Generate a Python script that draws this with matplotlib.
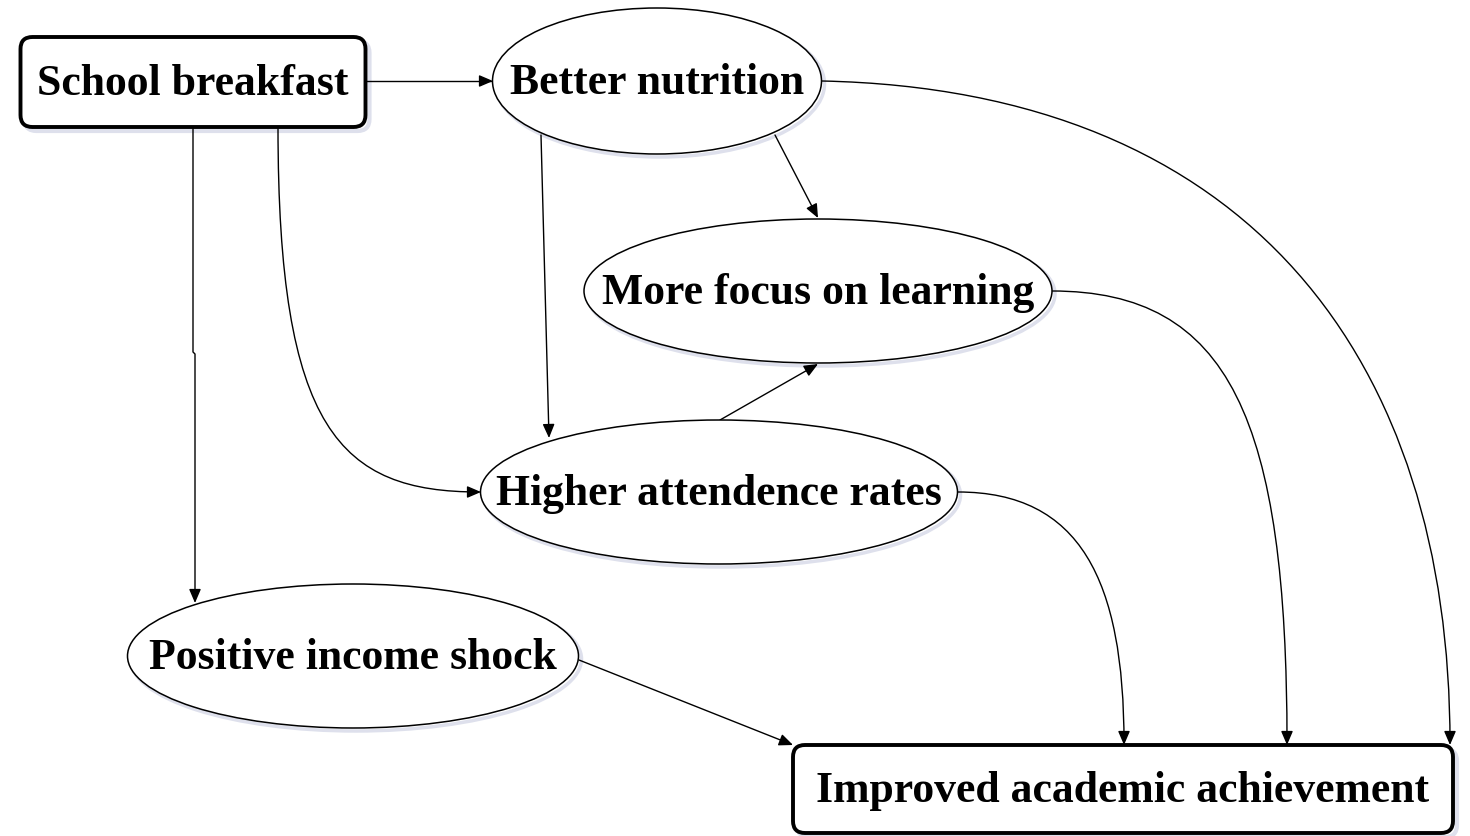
import numpy as np
import matplotlib.pyplot as plt
from matplotlib.patches import Ellipse, FancyBboxPatch, FancyArrowPatch
from matplotlib.path import Path

plt.rcParams['font.family'] = ['Liberation Serif', 'DejaVu Serif']

# nodes of the diagram
labels = ["School breakfast", "Better nutrition", "More focus on learning",
          "Higher attendence rates", "Positive income shock",
          "Improved academic achievement"]
shapes = ["box", "ellipse", "ellipse", "ellipse", "ellipse", "box"]
centers_x = [193, 657, 818, 719, 353, 1123]
centers_y = [82, 81, 291, 492, 656, 789]
widths = [345, 329, 468, 477, 451, 660]
heights = [90, 146, 144, 144, 144, 88]

# edges: (start, end, kind); kind "line" or "curve"
edge_from = [0, 0, 0, 1, 1, 3, 1, 2, 3, 4]
edge_to = [1, 4, 3, 3, 2, 2, 5, 5, 5, 5]

# attachment points for edges (pixel coords of the picture)
edge_paths = [
    [(365, 81), (493, 81)],
    [(193, 127), (193, 352), (195, 354), (195, 603)],
    [(278, 127), (278, 430), (340, 492), (481, 492)],
    [(541, 135), (549, 438)],
    [(775, 135), (818, 218)],
    [(720, 420), (818, 364)],
    [(822, 81), (1250, 90), (1450, 360), (1450, 745)],
    [(1052, 291), (1230, 291), (1287, 420), (1287, 745)],
    [(958, 492), (1080, 492), (1124, 580), (1124, 745)],
    [(579, 660), (793, 745)],
]
edge_kind = ["line", "line", "curve", "line", "line", "line",
             "curve", "curve", "curve", "line"]

fig = plt.figure(figsize=(14.7, 8.36), dpi=100)
ax = fig.add_axes([0, 0, 1, 1])
ax.set_xlim(0, 1470)
ax.set_ylim(836, 0)
ax.axis("off")

shadow = "#c8cce0"
for lab, sh, cx, cy, w, h in zip(labels, shapes, centers_x, centers_y, widths, heights):
    if sh == "box":
        for dx, col, lw, z in [(4, shadow, 3.0, 1), (0, "black", 2.8, 3)]:
            p = FancyBboxPatch((cx - w / 2 + dx, cy - h / 2 + dx), w, h,
                               boxstyle="round,pad=0,rounding_size=12",
                               fc="white" if dx == 0 else "none",
                               ec=col, lw=lw, zorder=z, alpha=1 if dx == 0 else 0.6)
            ax.add_patch(p)
    else:
        ax.add_patch(Ellipse((cx + 3, cy + 3), w, h, fc="none", ec=shadow,
                             lw=2.5, alpha=0.6, zorder=1))
        ax.add_patch(Ellipse((cx, cy), w, h, fc="white", ec="black",
                             lw=1.1, zorder=3))
    ax.text(cx, cy + 2, lab, ha="center", va="center", fontsize=31.5,
            fontweight="bold", zorder=4)

for pts, kind in zip(edge_paths, edge_kind):
    if kind == "curve":
        codes = [Path.MOVETO, Path.CURVE4, Path.CURVE4, Path.CURVE4]
    else:
        codes = [Path.MOVETO] + [Path.LINETO] * (len(pts) - 1)
    arr = FancyArrowPatch(path=Path(pts, codes),
                          arrowstyle="-|>,head_length=0.7,head_width=0.3",
                          mutation_scale=12, color="black", lw=1.0, zorder=2)
    ax.add_patch(arr)

fig.savefig("out.png", dpi=100, facecolor="white")
